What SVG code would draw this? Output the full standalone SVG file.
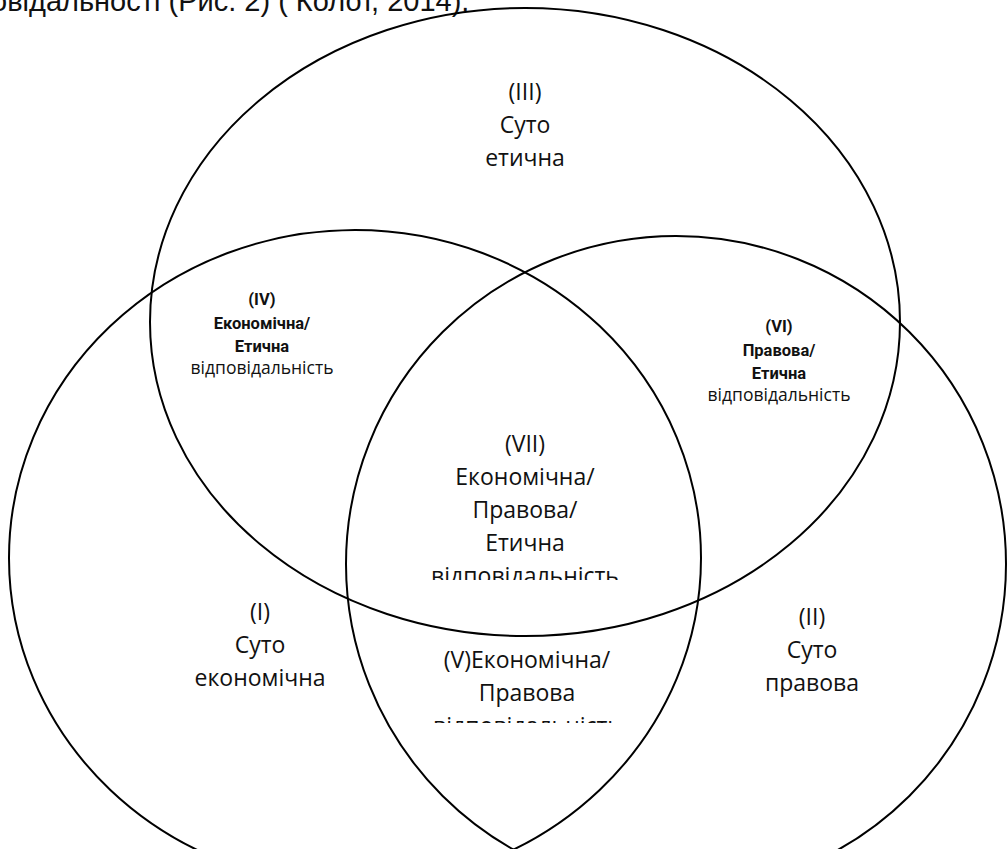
<svg xmlns="http://www.w3.org/2000/svg" width="1008" height="849" viewBox="0 0 1008 849">
<style>
.ring{fill:none;stroke:#000;stroke-width:2}
.lbl{font-family:"Open Sans","Noto Sans",sans-serif;font-size:23px;fill:#111;text-anchor:middle}
.sm{font-family:"Open Sans","Noto Sans",sans-serif;font-size:17.5px;fill:#111;text-anchor:middle}
.b{font-family:Roboto,"Open Sans",sans-serif;font-weight:bold;font-size:16.5px}
.cap{font-family:"Liberation Sans",Arial,sans-serif;font-size:29px;fill:#111}
</style>
<defs>
<clipPath id="clipVII"><rect x="380" y="420" width="290" height="160"/></clipPath>
<clipPath id="clipV"><rect x="380" y="645" width="290" height="78"/></clipPath>
</defs>
<rect width="1008" height="849" fill="#fff"/>
<text class="cap" x="-9" y="11">овідальності (Рис. 2) ( Колот, 2014).</text>
<g id="connectors"/>
<g id="ethics"><ellipse class="ring" cx="525" cy="322" rx="375" ry="314"/></g>
<g id="economic"><ellipse class="ring" cx="355" cy="558" rx="346" ry="328"/></g>
<g id="legal"><ellipse class="ring" cx="676" cy="564" rx="330" ry="328"/></g>
<g id="region-III"><text class="lbl"><tspan x="525" y="100">(III)</tspan><tspan x="525" y="133">Суто</tspan><tspan x="525" y="166">етична</tspan></text></g>
<g id="region-IV"><text class="sm"><tspan class="b" x="262" y="305">(IV)</tspan><tspan class="b" x="262" y="329">Економічна/</tspan><tspan class="b" x="262" y="352">Етична</tspan><tspan x="262" y="374">відповідальність</tspan></text></g>
<g id="region-VI"><text class="sm"><tspan class="b" x="779" y="332">(VI)</tspan><tspan class="b" x="779" y="356">Правова/</tspan><tspan class="b" x="779" y="379">Етична</tspan><tspan x="779" y="401">відповідальність</tspan></text></g>
<g id="region-VII" clip-path="url(#clipVII)"><text class="lbl"><tspan x="525" y="452">(VII)</tspan><tspan x="525" y="485">Економічна/</tspan><tspan x="525" y="518">Правова/</tspan><tspan x="525" y="551">Етична</tspan><tspan x="525" y="584">відповідальність</tspan></text></g>
<g id="region-I"><text class="lbl"><tspan x="260" y="620">(I)</tspan><tspan x="260" y="653">Суто</tspan><tspan x="260" y="686">економічна</tspan></text></g>
<g id="region-V" clip-path="url(#clipV)"><text class="lbl"><tspan x="527" y="668">(V)Економічна/</tspan><tspan x="527" y="701">Правова</tspan><tspan x="527" y="734">відповідальність</tspan></text></g>
<g id="region-II"><text class="lbl"><tspan x="812" y="625">(II)</tspan><tspan x="812" y="658">Суто</tspan><tspan x="812" y="691">правова</tspan></text></g>
</svg>
